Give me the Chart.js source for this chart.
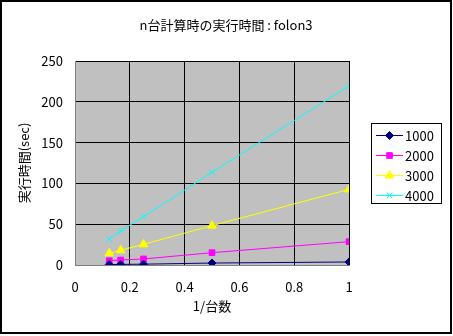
<!DOCTYPE html>
<html><head><meta charset="utf-8">
<script src="https://cdn.jsdelivr.net/npm/chart.js@4.4.0/dist/chart.umd.min.js"></script>
<style>html,body{margin:0;padding:0;background:#fff}canvas{display:block}</style>
</head><body>
<canvas id="c" width="453" height="336"></canvas>
<script>
const titleText = 'n台計算時の実行時間 : folon3';
const xAxisTitle = '1/台数';
const yAxisTitle = '実行時間(sec)';
const invNodes = [0.125, 0.1667, 0.25, 0.5, 1];
const seriesLabels = ['1000', '2000', '3000', '4000'];
const s1000 = [0.5, 0.7, 1.0, 2.4, 3.7];
const s2000 = [5.3, 6.1, 7.4, 15.1, 28.6];
const s3000 = [14.3, 18.0, 25.3, 48.2, 92.7];
const s4000 = [31.9, 41.7, 59.2, 113.6, 219.4];
const colors = ['#000080', '#FF00FF', '#FFFF00', '#00FFFF'];
const styles = ['rectRot', 'rect', 'triangle', 'crossRot'];
const radii = [4, 4, 5, 4];
const allSeries = [s1000, s2000, s3000, s4000];

const FONT = "'Noto Sans CJK JP', 'Liberation Sans', sans-serif";

const datasets = allSeries.map((s, i) => ({
  label: seriesLabels[i],
  data: s.map((v, j) => ({x: invNodes[j], y: v})),
  borderColor: colors[i],
  backgroundColor: colors[i],
  pointBorderColor: colors[i],
  pointBackgroundColor: colors[i],
  borderWidth: 1,
  pointStyle: styles[i],
  pointRadius: radii[i],
  pointBorderWidth: 1,
  showLine: true,
  tension: 0
}));

const deco = {
  id: 'deco',
  beforeDraw(chart) {
    const ctx = chart.ctx, a = chart.chartArea;
    ctx.save();
    ctx.fillStyle = '#fff';
    ctx.fillRect(0, 0, chart.width, chart.height);
    ctx.fillStyle = '#C0C0C0';
    ctx.fillRect(a.left, a.top, a.right - a.left, a.bottom - a.top);
    ctx.restore();
  },
  afterDraw(chart) {
    const ctx = chart.ctx;
    ctx.save();
    ctx.fillStyle = '#000';
    ctx.font = '13px ' + FONT;
    ctx.textAlign = 'center';
    ctx.textBaseline = 'middle';
    ctx.fillText(titleText, 226, 25);
    ctx.strokeStyle = '#000';
    ctx.lineWidth = 1;
    ctx.strokeRect(371.5, 123.5, 70, 80);
    chart.data.datasets.forEach((ds, i) => {
      const y = 135 + i * 20;
      ctx.strokeStyle = ds.borderColor;
      ctx.fillStyle = ds.backgroundColor;
      ctx.lineWidth = 1;
      ctx.beginPath();
      ctx.moveTo(376, y + 0.5);
      ctx.lineTo(403, y + 0.5);
      ctx.stroke();
      Chart.helpers.drawPoint(ctx, {pointStyle: ds.pointStyle, radius: ds.pointRadius, borderWidth: 1, rotation: 0}, 389.5, y + 0.5);
      ctx.fillStyle = '#000';
      ctx.textAlign = 'left';
      ctx.textBaseline = 'middle';
      ctx.font = '13px ' + FONT;
      ctx.fillText(ds.label, 405, y + 1);
    });
    ctx.strokeStyle = '#000';
    ctx.lineWidth = 2;
    ctx.strokeRect(1, 1, 450, 332);
    ctx.restore();
  }
};

new Chart(document.getElementById('c'), {
  type: 'scatter',
  data: {datasets},
  options: {
    responsive: false,
    animation: false,
    layout: {padding: {left: 12, top: 61, right: 104, bottom: 18}},
    plugins: {legend: {display: false}, title: {display: false}, tooltip: {enabled: false}},
    scales: {
      x: {
        type: 'linear', min: 0, max: 1,
        ticks: {stepSize: 0.2, color: '#000', font: {family: FONT, size: 13}, padding: 14, maxRotation: 0,
          callback: v => String(Math.round(v * 10) / 10)},
        grid: {color: '#000', drawTicks: false},
        border: {color: '#808080'},
        title: {display: true, text: xAxisTitle, color: '#000', font: {family: FONT, size: 13}},
        afterFit(s) { s.height = 53; }
      },
      y: {
        type: 'linear', min: 0, max: 250,
        ticks: {stepSize: 50, color: '#000', font: {family: FONT, size: 13}, padding: 12},
        grid: {color: '#000', drawTicks: false},
        border: {color: '#808080'},
        title: {display: true, text: yAxisTitle, color: '#000', font: {family: FONT, size: 13}},
        afterFit(s) { s.width = 63; }
      }
    }
  },
  plugins: [deco]
});
</script>
</body></html>
